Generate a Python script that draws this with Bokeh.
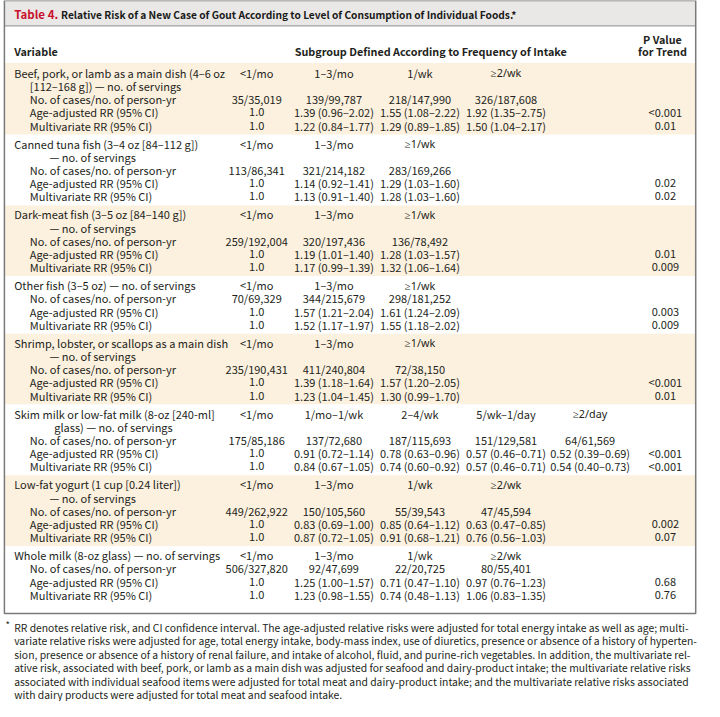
from bokeh.plotting import figure
from bokeh.models import ColumnDataSource, Range1d
from bokeh.core.properties import value
from bokeh.embed import file_html
from bokeh.resources import INLINE

# ---------------- data ----------------
title_prefix = "Table 4."
title_text = "Relative Risk of a New Case of Gout According to Level of Consumption of Individual Foods.*"

food_labels = [
    ["Beef, pork, or lamb as a main dish (4–6 oz", "[112–168 g]) — no. of servings"],
    ["Canned tuna fish (3–4 oz [84–112 g])", "— no. of servings"],
    ["Dark-meat fish (3–5 oz [84–140 g])", "— no. of servings"],
    ["Other fish (3–5 oz) — no. of servings"],
    ["Shrimp, lobster, or scallops as a main dish", "— no. of servings"],
    ["Skim milk or low-fat milk (8-oz [240-ml]", "glass) — no. of servings"],
    ["Low-fat yogurt (1 cup [0.24 liter])", "— no. of servings"],
    ["Whole milk (8-oz glass) — no. of servings"],
]

frequencies = [
    ["<1/mo", "1–3/mo", "1/wk", "≥2/wk"],
    ["<1/mo", "1–3/mo", "≥1/wk"],
    ["<1/mo", "1–3/mo", "≥1/wk"],
    ["<1/mo", "1–3/mo", "≥1/wk"],
    ["<1/mo", "1–3/mo", "≥1/wk"],
    ["<1/mo", "1/mo–1/wk", "2–4/wk", "5/wk–1/day", "≥2/day"],
    ["<1/mo", "1–3/mo", "1/wk", "≥2/wk"],
    ["<1/mo", "1–3/mo", "1/wk", "≥2/wk"],
]

cases = [
    ["35/35,019", "139/99,787", "218/147,990", "326/187,608"],
    ["113/86,341", "321/214,182", "283/169,266"],
    ["259/192,004", "320/197,436", "136/78,492"],
    ["70/69,329", "344/215,679", "298/181,252"],
    ["235/190,431", "411/240,804", "72/38,150"],
    ["175/85,186", "137/72,680", "187/115,693", "151/129,581", "64/61,569"],
    ["449/262,922", "150/105,560", "55/39,543", "47/45,594"],
    ["506/327,820", "92/47,699", "22/20,725", "80/55,401"],
]

age_adjusted = [
    ["1.0", "1.39 (0.96–2.02)", "1.55 (1.08–2.22)", "1.92 (1.35–2.75)"],
    ["1.0", "1.14 (0.92–1.41)", "1.29 (1.03–1.60)"],
    ["1.0", "1.19 (1.01–1.40)", "1.28 (1.03–1.57)"],
    ["1.0", "1.57 (1.21–2.04)", "1.61 (1.24–2.09)"],
    ["1.0", "1.39 (1.18–1.64)", "1.57 (1.20–2.05)"],
    ["1.0", "0.91 (0.72–1.14)", "0.78 (0.63–0.96)", "0.57 (0.46–0.71)", "0.52 (0.39–0.69)"],
    ["1.0", "0.83 (0.69–1.00)", "0.85 (0.64–1.12)", "0.63 (0.47–0.85)"],
    ["1.0", "1.25 (1.00–1.57)", "0.71 (0.47–1.10)", "0.97 (0.76–1.23)"],
]

multivariate = [
    ["1.0", "1.22 (0.84–1.77)", "1.29 (0.89–1.85)", "1.50 (1.04–2.17)"],
    ["1.0", "1.13 (0.91–1.40)", "1.28 (1.03–1.60)"],
    ["1.0", "1.17 (0.99–1.39)", "1.32 (1.06–1.64)"],
    ["1.0", "1.52 (1.17–1.97)", "1.55 (1.18–2.02)"],
    ["1.0", "1.23 (1.04–1.45)", "1.30 (0.99–1.70)"],
    ["1.0", "0.84 (0.67–1.05)", "0.74 (0.60–0.92)", "0.57 (0.46–0.71)", "0.54 (0.40–0.73)"],
    ["1.0", "0.87 (0.72–1.05)", "0.91 (0.68–1.21)", "0.76 (0.56–1.03)"],
    ["1.0", "1.23 (0.98–1.55)", "0.74 (0.48–1.13)", "1.06 (0.83–1.35)"],
]

p_age = ["<0.001", "0.02", "0.01", "0.003", "<0.001", "<0.001", "0.002", "0.68"]
p_multi = ["0.01", "0.02", "0.009", "0.009", "0.01", "<0.001", "0.07", "0.76"]

row_labels = ["No. of cases/no. of person-yr", "Age-adjusted RR (95% CI)", "Multivariate RR (95% CI)"]

footnote = [
    "RR denotes relative risk, and CI confidence interval. The age-adjusted relative risks were adjusted for total energy intake as well as age; multi-",
    "variate relative risks were adjusted for age, total energy intake, body-mass index, use of diuretics, presence or absence of a history of hyperten-",
    "sion, presence or absence of a history of renal failure, and intake of alcohol, fluid, and purine-rich vegetables. In addition, the multivariate rel-",
    "ative risk, associated with beef, pork, or lamb as a main dish was adjusted for seafood and dairy-product intake; the multivariate relative risks",
    "associated with individual seafood items were adjusted for total meat and dairy-product intake; and the multivariate relative risks associated",
    "with dairy products were adjusted for total meat and seafood intake.",
]

# ---------------- layout ----------------
FONT = "Noto Sans CJK SC"
SYM_FONT = "Noto Sans"
TXT = "#231f20"
TAN = "#fcf0de"
col_x = [262, 341, 429, 517, 603]
p_x = 680
cont_x = [30, 50, 50, 50, 50, 55, 50, 50]
LS = 13.5
GAP = 18.4
BODY = "11px"
FRAME_L, FRAME_R, FRAME_T, FRAME_B = 4, 711, 0, 627

p = figure(width=704, height=701, x_range=Range1d(0, 720), y_range=Range1d(717, 0),
           output_backend="svg", toolbar_location=None, min_border=0)
p.axis.visible = False
p.grid.visible = False
p.outline_line_color = None
p.background_fill_color = "white"
p.border_fill_color = "white"

# compute group positions
y0s, lasts = [], []
y = 74.0
for g in range(len(food_labels)):
    n = len(food_labels[g]) + 3
    y0s.append(y)
    lasts.append(y + (n - 1) * LS)
    y = lasts[-1] + GAP

band_l, band_r, band_t, band_b, band_c = [], [], [], [], []
for g in range(len(food_labels)):
    top = 64 if g == 0 else (lasts[g - 1] + y0s[g]) / 2
    bot = FRAME_B if g == len(food_labels) - 1 else (lasts[g] + y0s[g + 1]) / 2
    band_l.append(FRAME_L); band_r.append(FRAME_R)
    band_t.append(top); band_b.append(bot)
    band_c.append(TAN if g % 2 == 0 else "white")
p.quad(left=band_l, right=band_r, top=band_t, bottom=band_b, fill_color=band_c, line_color=None)

# title bar
p.quad(left=[FRAME_L], right=[FRAME_R], top=[FRAME_T], bottom=[26], fill_color="#e9e8e6",
       line_color=None)
p.segment(x0=[FRAME_L], y0=[26], x1=[FRAME_R], y1=[26], line_color="#8c8c8c", line_width=1)
# outer frame
p.quad(left=[FRAME_L], right=[FRAME_R], top=[FRAME_T], bottom=[FRAME_B], fill_color=None,
       line_color="#7a7a7a", line_width=1.5)


def add_text(xs, ys, texts, size, align="left", bold=False, color=TXT, font=FONT):
    if not texts:
        return
    src = ColumnDataSource(dict(x=xs, y=ys, t=texts))
    p.text(x="x", y="y", text="t", source=src, text_font=value(font),
           text_font_size=value(size), text_align=align, text_baseline="middle",
           text_color=color, text_font_style="bold" if bold else "normal")


# title
add_text([14], [14], [title_prefix], "11.5px", bold=True, color="#c8102e")
add_text([62], [14], [title_text], "10.2px", bold=True, color="#1a1a1a")

# header
add_text([14], [52], ["Variable"], "10.8px", bold=True)
add_text([440], [52], ["Subgroup Defined According to Frequency of Intake"], "10.8px", bold=True, align="center")
add_text([677, 677], [39, 52], ["P Value", "for Trend"], "10.8px", bold=True, align="center")

lx, ly, lt = [], [], []
cx, cy, ct = [], [], []
sx, sy, st = [], [], []
for g in range(len(food_labels)):
    y0 = y0s[g]
    nl = len(food_labels[g])
    for i, line in enumerate(food_labels[g]):
        lx.append(14 if i == 0 else cont_x[g]); ly.append(y0 + i * LS); lt.append(line)
    for k, lab in enumerate(row_labels):
        lx.append(30); ly.append(y0 + (nl + k) * LS); lt.append(lab)
    for j, f in enumerate(frequencies[g]):
        if "≥" in f:
            sx.append(col_x[j]); sy.append(y0); st.append(f)
        else:
            cx.append(col_x[j]); cy.append(y0); ct.append(f)
    for k, vals in enumerate([cases[g], age_adjusted[g], multivariate[g]]):
        for j, v in enumerate(vals):
            cx.append(col_x[j]); cy.append(y0 + (nl + k) * LS); ct.append(v)
    cx.append(p_x); cy.append(y0 + (nl + 1) * LS); ct.append(p_age[g])
    cx.append(p_x); cy.append(y0 + (nl + 2) * LS); ct.append(p_multi[g])

add_text(lx, ly, lt, BODY)
add_text(cx, cy, ct, BODY, align="center")
add_text(sx, sy, st, "10.8px", align="center", font=SYM_FONT)

# footnote
add_text([5], [639], ["*"], "9.5px")
add_text([14] * len(footnote), [641 + 13.8 * i for i in range(len(footnote))], footnote, "10.35px")

open("out.html", "w").write(file_html(p, INLINE))
